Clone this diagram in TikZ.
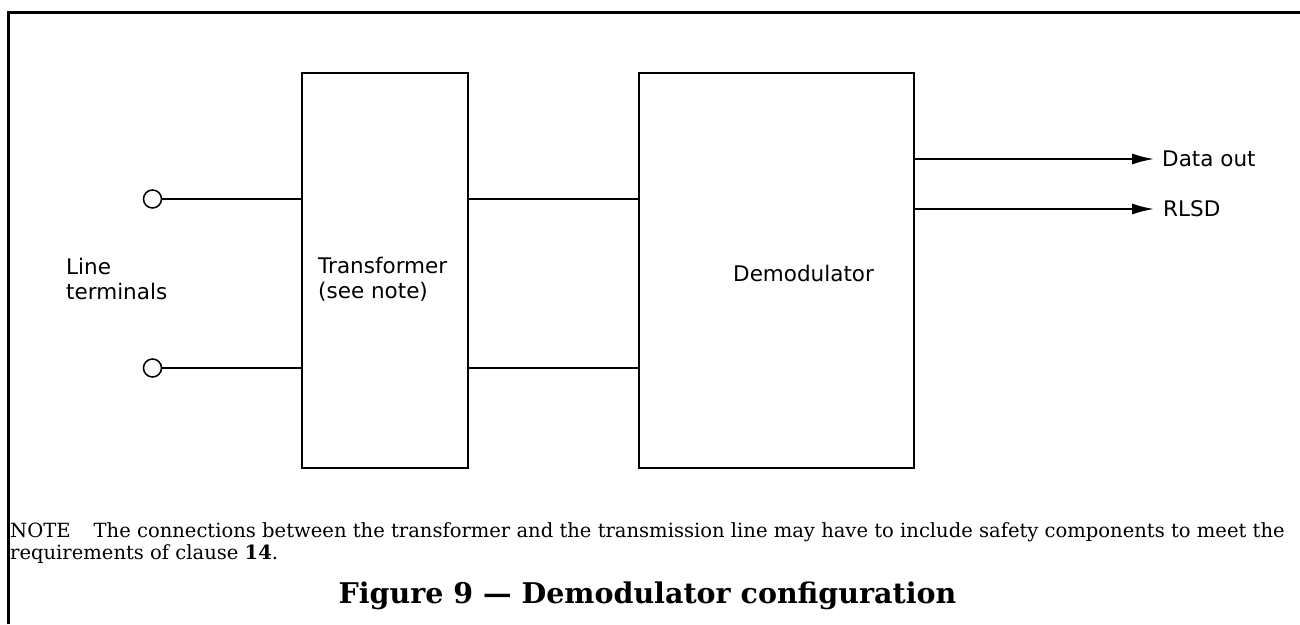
\documentclass[tikz,border=0pt]{standalone}
\usepackage{fontspec}
\newfontfamily\labelfont{DejaVu Sans}
\newfontfamily\notefont{DejaVu Serif}
\usetikzlibrary{arrows.meta}
\begin{document}
\begin{tikzpicture}[x=1pt,y=-1pt,
  blk/.style={draw,line width=2pt},
  wire/.style={line width=1.8pt},
  outarrow/.style={line width=1.8pt,-{Latex[length=22pt,width=11pt]}},
  term/.style={circle,draw,line width=1.5pt,minimum size=18pt,inner sep=0pt},
  lbl/.style={font=\labelfont\fontsize{21.5}{25}\selectfont,inner sep=0pt,align=left},
  notetxt/.style={font=\notefont\fontsize{19.55}{22}\selectfont,inner sep=0pt,align=left},
]
\useasboundingbox (0,0) rectangle (1300,624);
\draw[line width=3pt] (8.5,624) -- (8.5,12) -- (1300,12);
% boxes
\node[blk,minimum width=166pt,minimum height=395pt,anchor=north west,inner sep=0pt] (tr) at (301,72) {};
\node[blk,minimum width=275pt,minimum height=395pt,anchor=north west,inner sep=0pt] (dm) at (638,72) {};
% terminals
\node[term] (t1) at (152.5,199) {};
\node[term] (t2) at (152.5,368) {};
\coordinate (tr1) at (tr.west |- t1);
\coordinate (tr2) at (tr.west |- t2);
\draw[wire] (t1.east) -- (tr1);
\draw[wire] (t2.east) -- (tr2);
\draw[wire] (tr.east |- t1) -- (dm.west |- t1);
\draw[wire] (tr.east |- t2) -- (dm.west |- t2);
% outputs
\node[lbl,anchor=west] (dout) at (1162,159) {Data out};
\node[lbl,anchor=west] (rlsd) at (1163,209) {RLSD};
\coordinate (e1) at (1154,159);
\coordinate (e2) at (1154,209);
\draw[outarrow] (dm.east |- e1) -- (e1);
\draw[outarrow] (dm.east |- e2) -- (e2);
% labels
\node[lbl,anchor=west] (lt) at (66,279) {Line\\terminals};
\node[lbl,anchor=west] (tl) at (318,279) {Transformer\\(see note)};
\node[lbl,anchor=west] (dl) at (733,273.5) {Demodulator};
% note
\node[notetxt,anchor=base west] (note) at (10,559) {NOTE\hspace{23pt}The connections between the transformer and the transmission line may have to include safety components to meet the\\requirements of clause \textbf{14}.};
\node[font=\notefont\bfseries\fontsize{28.5}{30}\selectfont,inner sep=0pt,anchor=base] (cap) at (647.5,603) {Figure 9 \textemdash{} Demodulator configuration};
\end{tikzpicture}
\end{document}
